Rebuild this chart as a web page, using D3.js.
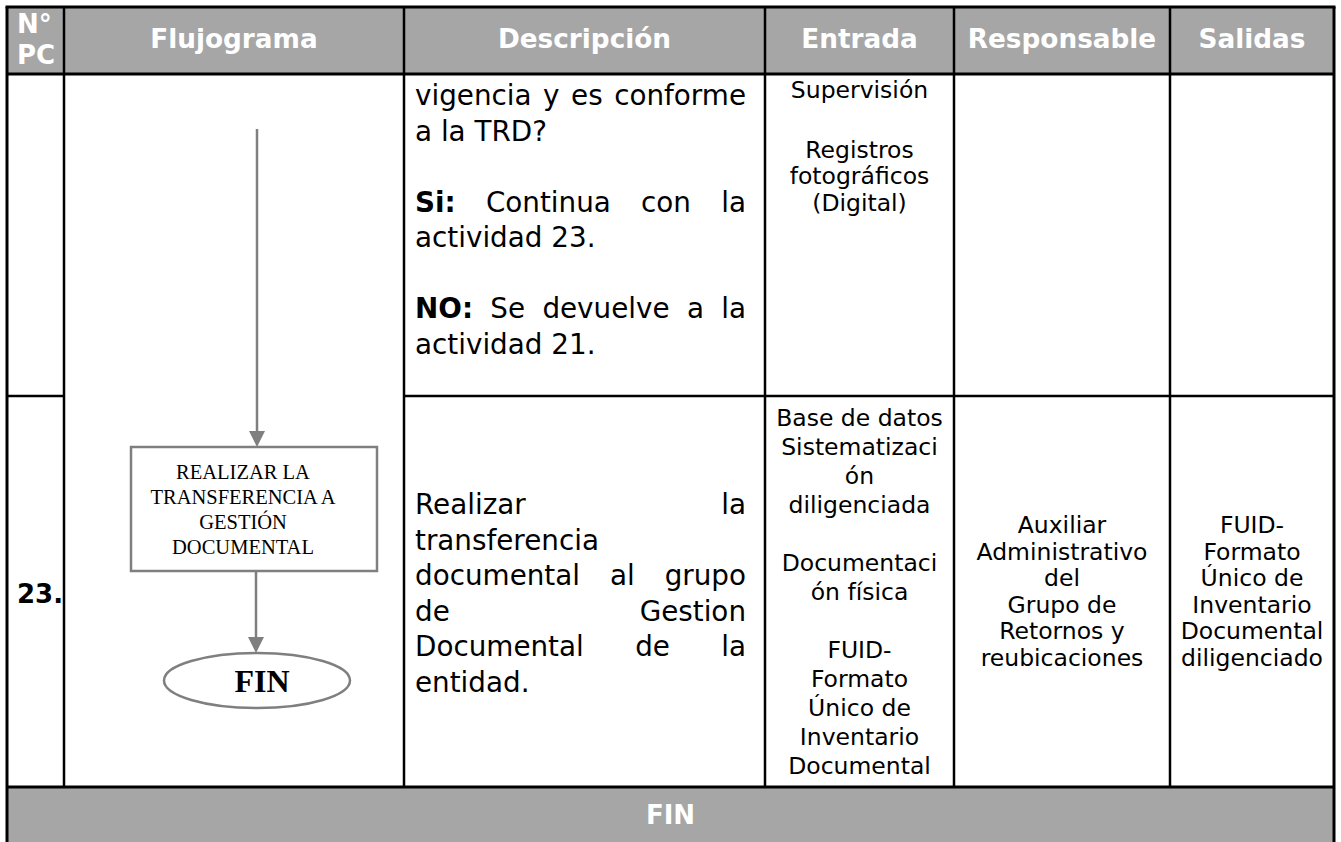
<!DOCTYPE html>
<html>
<head>
<meta charset="utf-8">
<script src="https://cdn.jsdelivr.net/npm/d3@7"></script>
<style>
  html, body { margin: 0; padding: 0; background: #fff; }
  svg { display: block; }
</style>
</head>
<body>
<svg id="chart" width="1341" height="842"></svg>
<script>
// ---------------- DATA ----------------
const headers = [["N°", "PC"], ["Flujograma"], ["Descripción"], ["Entrada"], ["Responsable"], ["Salidas"]];
const activityNumbers = ["", "23."];
const descripcion = [
  ["vigencia y es conforme", "a la TRD?", "", "**Si:** Continua con la", "actividad 23.", "", "**NO:** Se devuelve a la", "actividad 21."],
  ["Realizar la", "transferencia", "documental al grupo", "de Gestion", "Documental de la", "entidad."]
];
const entrada = [
  ["Supervisión", "", "Registros", "fotográficos", "(Digital)"],
  ["Base de datos", "Sistematizaci", "ón", "diligenciada", "", "Documentaci", "ón física", "", "FUID-", "Formato", "Único de", "Inventario", "Documental"]
];
const responsable = [
  [],
  ["Auxiliar", "Administrativo", "del", "Grupo de", "Retornos y", "reubicaciones"]
];
const salidas = [
  [],
  ["FUID-", "Formato", "Único de", "Inventario", "Documental", "diligenciado"]
];
const flowProcess = ["REALIZAR LA", "TRANSFERENCIA A", "GESTIÓN", "DOCUMENTAL"];
const flowEnd = "FIN";
const footerLabel = "FIN";

// ---------------- LAYOUT ----------------
const colEdges = [7, 64, 404, 765, 954, 1170, 1334];
const rowEdges = [7, 74, 396, 787, 846];
const headFill = "#a6a6a6";
const flowGray = "#7f7f7f";
const sans = "'DejaVu Sans', Verdana, sans-serif";
const serif = "'Liberation Serif', 'Times New Roman', serif";

const svg = d3.select("#chart");
const gBg = svg.append("g");
const gText = svg.append("g");
const gFlow = svg.append("g");
const gGrid = svg.append("g");

const xCol = d3.scaleOrdinal().domain(d3.range(6)).range(colEdges.slice(0, 6));
const wCol = i => colEdges[i + 1] - colEdges[i];

// header + footer fills
gBg.append("rect").attr("x", colEdges[0]).attr("y", rowEdges[0])
  .attr("width", colEdges[6] - colEdges[0]).attr("height", rowEdges[1] - rowEdges[0]).attr("fill", headFill);
gBg.append("rect").attr("x", colEdges[0]).attr("y", rowEdges[3])
  .attr("width", colEdges[6] - colEdges[0]).attr("height", rowEdges[4] - rowEdges[3]).attr("fill", headFill);

// text helpers
function measure(str, size, weight, family) {
  const t = gText.append("text").attr("font-family", family).attr("font-size", size)
    .attr("font-weight", weight).text(str);
  const w = t.node().getComputedTextLength();
  t.remove();
  return w;
}
function parseWords(line) {
  return line.split(" ").filter(w => w.length).map(w => {
    const b = w.startsWith("**") && w.endsWith("**");
    return { t: b ? w.slice(2, -2) : w, b };
  });
}
function baselines(lines, first, lh, blank) {
  const ys = [];
  let y = first;
  lines.forEach((l, i) => {
    if (i > 0) y += lines[i - 1] ? lh : blank;
    ys.push(y);
  });
  return ys;
}
function cell(lines, opt) {
  const { x0, x1, size, lh, align, family } = opt;
  const blank = opt.blankLh || lh;
  const span = d3.sum(lines.slice(0, -1), l => (l ? lh : blank));
  const first = opt.valign === "top" ? opt.y : opt.cy - span / 2 + 0.35 * size;
  const ys = baselines(lines, first, lh, blank);
  const spaceW = measure("x x", size, "normal", family) - measure("xx", size, "normal", family);
  lines.forEach((line, i) => {
    if (!line) return;
    const words = parseWords(line);
    const weightOf = w => (w.b || opt.bold ? "bold" : "normal");
    const widths = words.map(w => measure(w.t, size, weightOf(w), family));
    const tw = d3.sum(widths);
    const justify = align === "justify" && lines[i + 1] && words.length > 1;
    let gap = spaceW, x;
    if (justify) { gap = (x1 - x0 - tw) / (words.length - 1); x = x0; }
    else if (align === "center") x = (x0 + x1) / 2 - (tw + gap * (words.length - 1)) / 2;
    else x = x0;
    words.forEach((w, k) => {
      gText.append("text").attr("x", x).attr("y", ys[i])
        .attr("font-family", family).attr("font-size", size)
        .attr("font-weight", weightOf(w))
        .attr("fill", opt.color || "#000").text(w.t);
      x += widths[k] + gap;
    });
  });
}

// headers
const headCy = (rowEdges[0] + rowEdges[1]) / 2;
headers.forEach((h, i) => {
  if (i === 0) {
    cell(h, { x0: xCol(i) + 10, x1: xCol(i) + wCol(i), size: 26, lh: 31, align: "left", family: sans,
      cy: headCy - 1, bold: true, color: "#fff" });
  } else {
    cell(h, { x0: xCol(i), x1: xCol(i) + wCol(i), size: 26.3, lh: 30, align: "center", family: sans,
      cy: headCy - 2, bold: true, color: "#fff" });
  }
});

// activity numbers
activityNumbers.forEach((n, r) => {
  if (!n) return;
  cell([n], { x0: xCol(0) + 10, x1: xCol(0) + wCol(0), size: 26, lh: 30, align: "left", family: sans,
    cy: (rowEdges[r + 1] + rowEdges[r + 2]) / 2 + 2, bold: true });
});

// descripcion
descripcion.forEach((lines, r) => {
  const o = { x0: xCol(2) + 11, x1: xCol(2) + wCol(2) - 19, size: 27.8, lh: 35.5, align: "justify", family: sans };
  if (r === 0) { o.valign = "top"; o.y = rowEdges[1] + 31; }
  else o.cy = (rowEdges[2] + rowEdges[3]) / 2 + 2;
  cell(lines, o);
});

// entrada
entrada.forEach((lines, r) => {
  const o = { x0: xCol(3), x1: xCol(3) + wCol(3), size: 23.5, align: "center", family: sans };
  if (r === 0) { o.valign = "top"; o.y = rowEdges[1] + 24; o.lh = 26.5; o.blankLh = 33; }
  else { o.cy = (rowEdges[2] + rowEdges[3]) / 2; o.lh = 29; }
  cell(lines, o);
});
[responsable, salidas].forEach((col, c) => {
  col.forEach((lines, r) => {
    if (!lines.length) return;
    cell(lines, { x0: xCol(4 + c), x1: xCol(4 + c) + wCol(4 + c), size: 23.5, lh: 26.5, align: "center",
      family: sans, cy: (rowEdges[r + 1] + rowEdges[r + 2]) / 2 });
  });
});

// footer
cell([footerLabel], { x0: colEdges[0], x1: colEdges[6], size: 26, lh: 30, align: "center", family: sans,
  cy: (rowEdges[3] + 842) / 2, bold: true, color: "#fff" });

// ---------------- FLOWCHART ----------------
const flowX = 257;
const arrowTop = 129;
const box = { x: 131, y: 447, w: 246, h: 124 };
const ell = { cx: 257, cy: 680.5, rx: 93, ry: 27.5 };
const line = d3.line();
function arrow(x, y0, y1) {
  gFlow.append("path").attr("d", line([[x, y0], [x, y1 - 12]]))
    .attr("stroke", flowGray).attr("stroke-width", 2.5).attr("fill", "none");
}
function head(x, y1) {
  gFlow.append("path").attr("d", line([[x - 8, y1 - 16], [x + 8, y1 - 16], [x, y1]]) + "Z")
    .attr("fill", flowGray);
}
arrow(flowX, arrowTop, box.y);
head(flowX, box.y);
gFlow.append("rect").attr("x", box.x).attr("y", box.y).attr("width", box.w).attr("height", box.h)
  .attr("fill", "#fff").attr("stroke", flowGray).attr("stroke-width", 2.5);
arrow(flowX - 1, box.y + box.h, ell.cy - ell.ry);
gFlow.append("ellipse").attr("cx", ell.cx).attr("cy", ell.cy).attr("rx", ell.rx).attr("ry", ell.ry)
  .attr("fill", "#fff").attr("stroke", flowGray).attr("stroke-width", 2.5);
head(flowX - 1, ell.cy - ell.ry);

const tcx = box.x + box.w / 2 - 11;
const tcy = box.y + box.h / 2;
flowProcess.forEach((t, i) => {
  gFlow.append("text").attr("x", tcx).attr("y", tcy - (flowProcess.length * 25) / 2 + 12.5 + 7 + i * 25)
    .attr("text-anchor", "middle").attr("font-family", serif).attr("font-size", 20.5).text(t);
});
gFlow.append("text").attr("x", ell.cx + 5).attr("y", ell.cy + 11.5).attr("text-anchor", "middle")
  .attr("font-family", serif).attr("font-weight", "bold").attr("font-size", 32).text(flowEnd);

// ---------------- GRID ----------------
const bw = 2.5;
function hline(x0, x1, y, w) {
  gGrid.append("path").attr("d", line([[x0, y], [x1, y]])).attr("stroke", "#000").attr("stroke-width", w || bw);
}
function vline(x, y0, y1, w) {
  gGrid.append("path").attr("d", line([[x, y0], [x, y1]])).attr("stroke", "#000").attr("stroke-width", w || bw);
}
hline(colEdges[0] - 1.5, colEdges[6] + 1.5, rowEdges[0], 3);
hline(colEdges[0], colEdges[6], rowEdges[1], 3);
hline(colEdges[0], colEdges[1], rowEdges[2]);
hline(colEdges[2], colEdges[6], rowEdges[2]);
hline(colEdges[0], colEdges[6], rowEdges[3], 3);
vline(colEdges[0], rowEdges[0], 850, 3);
vline(colEdges[6], rowEdges[0], 850, 3);
colEdges.slice(1, 6).forEach(x => vline(x, rowEdges[0], rowEdges[3]));
</script>
</body>
</html>
